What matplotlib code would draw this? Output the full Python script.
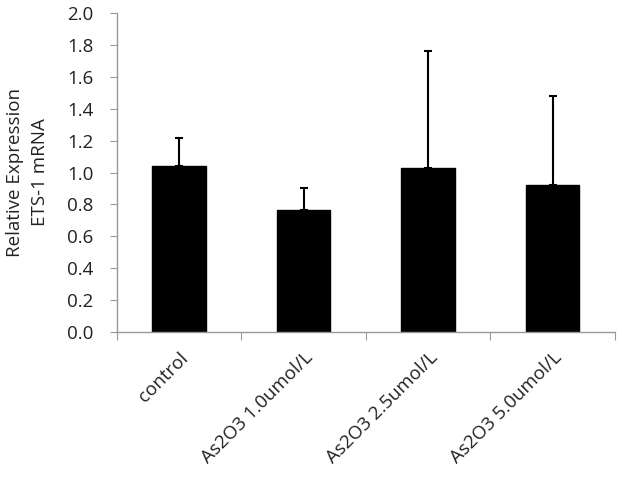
import matplotlib.pyplot as plt
import numpy as np

# data
groups = ['control', 'As2O3 1.0umol/L', 'As2O3 2.5umol/L', 'As2O3 5.0umol/L']
means = [1.04, 0.765, 1.03, 0.925]
errors = [0.175, 0.14, 0.73, 0.555]
yticks = [0.0, 0.2, 0.4, 0.6, 0.8, 1.0, 1.2, 1.4, 1.6, 1.8, 2.0]

plt.rcParams['font.family'] = ['Open Sans', 'DejaVu Sans']
fs = 13.5

fig = plt.figure(figsize=(6.34, 4.82), dpi=100)
ax = fig.add_axes([0.1845, 0.311, 0.7855, 0.662])

x = np.arange(len(groups))
ax.bar(x, means, width=0.43, color='black', edgecolor='black')
ax.errorbar(x, means, yerr=[np.zeros(len(errors)), errors], fmt='none',
            ecolor='black', elinewidth=1.5, capsize=3, capthick=1.5)

ax.set_xlim(-0.5, len(groups) - 0.5)
ax.set_ylim(0, 2.0)
ax.set_yticks(yticks)
ax.set_yticklabels(['%.1f' % v for v in yticks], fontsize=fs, color='#222222')

# category boundary ticks
ax.set_xticks(np.arange(-0.5, len(groups), 1.0))
ax.set_xticklabels([])
ax.set_xticks(x, minor=True)
ax.set_xticklabels(groups, minor=True, rotation=45, ha='right',
                   rotation_mode='anchor', fontsize=fs, color='#222222')
ax.tick_params(axis='x', which='minor', length=0, pad=12)
ax.tick_params(axis='x', which='major', length=6, color='#999999', direction='out')
ax.tick_params(axis='y', length=5, color='#999999', direction='out', pad=12)

for s in ['top', 'right']:
    ax.spines[s].set_visible(False)
for s in ['left', 'bottom']:
    ax.spines[s].set_color('#999999')
    ax.spines[s].set_linewidth(1)

ax.set_ylabel('Relative Expression\nETS-1 mRNA', fontsize=fs, color='#222222',
              linespacing=1.45)
ax.yaxis.set_label_coords(-0.137, 0.5)

fig.savefig('out.png', dpi=100)
